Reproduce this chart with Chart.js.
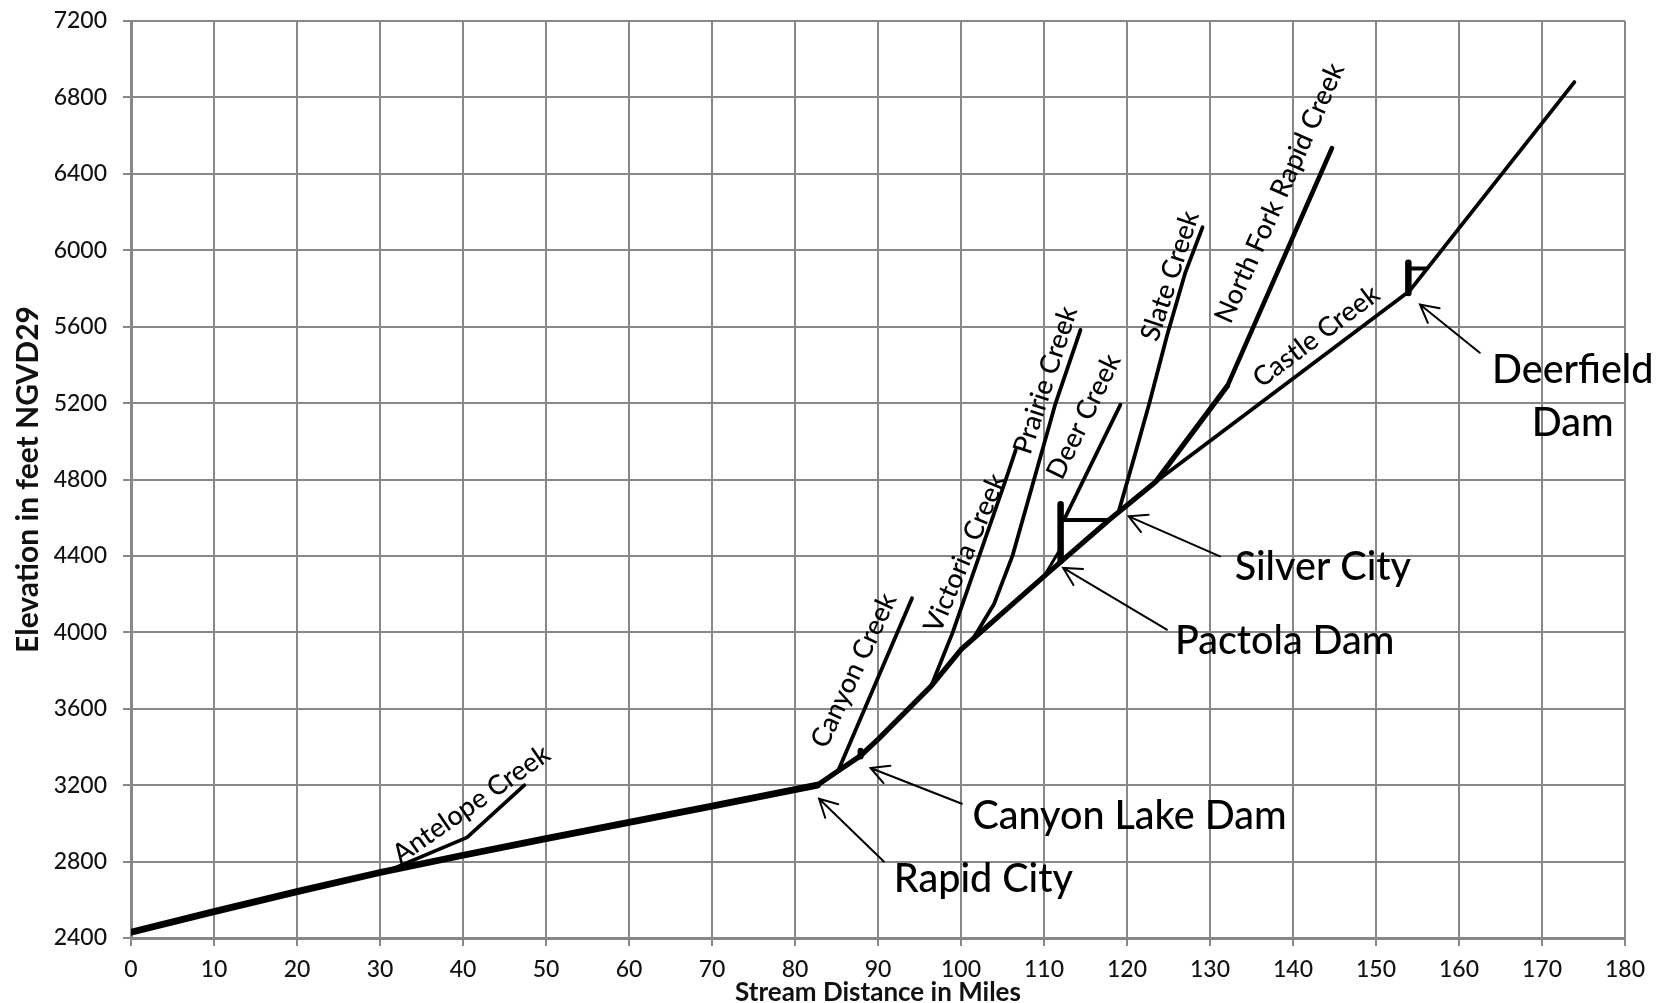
<!DOCTYPE html>
<html>
<head>
<meta charset="utf-8">
<title>Rapid Creek and tributaries - stream profiles</title>
<script src="https://cdn.jsdelivr.net/npm/chart.js@4.4.1/dist/chart.umd.min.js"></script>
<style>
  html, body { margin: 0; padding: 0; background: #fff; }
  #wrap { width: 1657px; height: 1003px; position: relative; }
</style>
</head>
<body>
<div id="wrap"><canvas id="profile" width="1657" height="1003"></canvas></div>
<script>
// Stream distance (miles) and bed elevation (feet NGVD29) for each reach
const rapidMiles = [0, 10, 20, 30, 40, 50, 60, 70, 82.7, 85.2, 87.9, 90, 96.4, 100, 110, 117.9, 123.5, 132.1];
const rapidElev  = [2430, 2538, 2643, 2743, 2833, 2920, 3005, 3090, 3200, 3275, 3354, 3440, 3718, 3910, 4293, 4591, 4790, 5290];
const northForkMiles = [132.1, 144.7];
const northForkElev  = [5290, 6535];
const castleMiles = [123.5, 154.0, 173.9];
const castleElev  = [4790, 5785, 6880];
const antelopeMiles = [31.0, 40.5, 47.4];
const antelopeElev  = [2752, 2927, 3200];
const canyonMiles = [85.2, 94.1];
const canyonElev  = [3275, 4178];
const victoriaMiles = [96.4, 99.0, 102.2, 105.4, 106.6];
const victoriaElev  = [3718, 4000, 4400, 4800, 4955];
const prairieMiles = [101.4, 104.0, 106.2, 108.8, 111.4, 114.4];
const prairieElev  = [3963, 4150, 4400, 4800, 5200, 5583];
const deerMiles = [112.4, 119.2];
const deerElev  = [4588, 5191];
const slateMiles = [119.0, 120.9, 122.7, 124.8, 127.0, 129.1];
const slateElev  = [4632, 4921, 5200, 5550, 5880, 6120];

// Dams and reservoir pools
const canyonLakeDamMiles = [87.9, 87.9];
const canyonLakeDamElev  = [3350, 3380];
const pactolaDamMiles = [112.0, 112.0];
const pactolaDamElev  = [4375, 4670];
const pactolaPoolMiles = [112.0, 117.9];
const pactolaPoolElev  = [4588, 4588];
const pactolaOldChannelMiles = [110.1, 111.8];
const pactolaOldChannelElev  = [4300, 4425];
const deerfieldDamMiles = [153.9, 153.9];
const deerfieldDamElev  = [5776, 5935];
const deerfieldPoolMiles = [153.9, 156.1];
const deerfieldPoolElev  = [5904, 5904];

// Axis ticks
const mileTicks = [0, 10, 20, 30, 40, 50, 60, 70, 80, 90, 100, 110, 120, 130, 140, 150, 160, 170, 180];
const elevTicks = [2400, 2800, 3200, 3600, 4000, 4400, 4800, 5200, 5600, 6000, 6400, 6800, 7200];

// Stream names written along the profiles
const creekNames = [
  { text: 'Antelope Creek', mile: 41.0, elev: 3100, angle: -35 },
  { text: 'Canyon Creek', mile: 87.1, elev: 3800, angle: -65 },
  { text: 'Victoria Creek', mile: 100.5, elev: 4415, angle: -67 },
  { text: 'Prairie Creek', mile: 110.2, elev: 5320, angle: -72 },
  { text: 'Deer Creek', mile: 114.8, elev: 5130, angle: -64 },
  { text: 'Slate Creek', mile: 125.2, elev: 5865, angle: -72 },
  { text: 'North Fork Rapid Creek', mile: 138.4, elev: 6300, angle: -66 },
  { text: 'Castle Creek', mile: 142.8, elev: 5550, angle: -37 }
];

// Place names with pointers
const placeNames = [
  { lines: ['Rapid City'], mile: 102.7, elev: 2709, tail: [90.7, 2800], tip: [82.9, 3129] },
  { lines: ['Canyon Lake Dam'], mile: 120.3, elev: 3035, tail: [100.1, 3103], tip: [89.1, 3290] },
  { lines: ['Pactola Dam'], mile: 139.0, elev: 3954, tail: [124.8, 4014], tip: [112.3, 4337] },
  { lines: ['Silver City'], mile: 143.6, elev: 4341, tail: [131.2, 4398], tip: [120.2, 4607] },
  { lines: ['Deerfield', 'Dam'], mile: 173.7, elev: 5371, tail: [162.5, 5463], tip: [155.3, 5716] }
];

const FONT = 'Lato, "Open Sans", sans-serif';
const GRID = '#888888';

function reach(label, miles, elev, width) {
  return {
    label,
    data: miles.map((m, i) => ({ x: m, y: elev[i] })),
    borderColor: '#000',
    borderWidth: width,
    pointRadius: 0,
    tension: 0,
    borderJoinStyle: 'round',
    borderCapStyle: 'round',
    fill: false
  };
}

const datasets = [
  Object.assign(reach('Rapid Creek', rapidMiles, rapidElev, 5.2), {
    segment: { borderWidth: c => (c.p0.parsed.x < 82.7 ? 6.8 : 5.2) }
  }),
  reach('North Fork Rapid Creek', northForkMiles, northForkElev, 4.6),
  reach('Castle Creek', castleMiles, castleElev, 3.8),
  reach('Antelope Creek', antelopeMiles, antelopeElev, 3.6),
  reach('Canyon Creek', canyonMiles, canyonElev, 3.8),
  reach('Victoria Creek', victoriaMiles, victoriaElev, 3.8),
  reach('Prairie Creek', prairieMiles, prairieElev, 3.8),
  reach('Deer Creek', deerMiles, deerElev, 3.8),
  reach('Slate Creek', slateMiles, slateElev, 3.8),
  reach('Canyon Lake Dam', canyonLakeDamMiles, canyonLakeDamElev, 6),
  reach('Pactola Dam', pactolaDamMiles, pactolaDamElev, 6.5),
  reach('Pactola Reservoir', pactolaPoolMiles, pactolaPoolElev, 4),
  reach('Rapid Creek (inundated)', pactolaOldChannelMiles, pactolaOldChannelElev, 3),
  reach('Deerfield Dam', deerfieldDamMiles, deerfieldDamElev, 6.5),
  reach('Deerfield Reservoir', deerfieldPoolMiles, deerfieldPoolElev, 4)
];

function drawPointer(ctx, x1, y1, x2, y2) {
  const ang = Math.atan2(y1 - y2, x1 - x2);
  const head = 20, spread = 28 * Math.PI / 180;
  ctx.beginPath();
  ctx.moveTo(x1, y1);
  ctx.lineTo(x2, y2);
  ctx.moveTo(x2 + head * Math.cos(ang - spread), y2 + head * Math.sin(ang - spread));
  ctx.lineTo(x2, y2);
  ctx.lineTo(x2 + head * Math.cos(ang + spread), y2 + head * Math.sin(ang + spread));
  ctx.stroke();
}

const profileNotes = {
  id: 'profileNotes',
  afterDatasetsDraw(chart) {
    const { ctx, scales: { x, y } } = chart;
    ctx.save();
    ctx.fillStyle = '#000';
    ctx.strokeStyle = '#000';
    ctx.textAlign = 'center';
    ctx.textBaseline = 'middle';

    ctx.font = '500 27px ' + FONT;
    creekNames.forEach(n => {
      ctx.save();
      ctx.translate(x.getPixelForValue(n.mile), y.getPixelForValue(n.elev));
      ctx.rotate(n.angle * Math.PI / 180);
      ctx.fillText(n.text, 0, 0);
      ctx.restore();
    });

    ctx.font = '500 39.5px ' + FONT;
    ctx.lineWidth = 2;
    ctx.lineCap = 'round';
    placeNames.forEach(p => {
      const px = x.getPixelForValue(p.mile);
      const py = y.getPixelForValue(p.elev);
      p.lines.forEach((t, i) => ctx.fillText(t, px, py + i * 53));
      drawPointer(ctx,
        x.getPixelForValue(p.tail[0]), y.getPixelForValue(p.tail[1]),
        x.getPixelForValue(p.tip[0]), y.getPixelForValue(p.tip[1]));
    });
    ctx.restore();
  }
};

function axis(min, max, tickList, fit, title, pad) {
  return {
    type: 'linear',
    min, max,
    afterBuildTicks: s => { s.ticks = tickList.map(v => ({ value: v })); },
    afterFit: s => {
      fit(s);
      // keep the plot frame fixed; labels may overhang the margins
      s.paddingTop = 0; s.paddingBottom = 0; s.paddingLeft = 0; s.paddingRight = 0;
    },
    ticks: {
      callback: v => String(v),
      color: '#111',
      font: { family: FONT, size: 23, weight: '500' },
      autoSkip: false,
      maxRotation: 0,
      padding: pad
    },
    grid: { color: GRID, lineWidth: 2, tickLength: 8, tickColor: GRID, tickWidth: 2 },
    border: { display: true, color: GRID, width: 3 },
    title
  };
}

function build() {
  const xAxis = axis(0, 180, mileTicks, s => { s.height = 65; }, {
    display: true,
    text: 'Stream Distance in Miles',
    color: '#111',
    font: { family: FONT, size: 26, weight: 'bold', lineHeight: 0.8 },
    padding: { top: 0, bottom: 0 }
  }, 10);
  const yAxis = axis(2400, 7200, elevTicks, s => { s.width = 131; }, {
    display: true,
    text: 'Elevation in feet NGVD29',
    color: '#111',
    font: { family: FONT, size: 30, weight: 'bold', lineHeight: 1.2 },
    padding: { top: 10, bottom: 0 }
  }, 16);

  new Chart(document.getElementById('profile'), {
    type: 'line',
    data: { datasets },
    options: {
      responsive: false,
      devicePixelRatio: 1,
      animation: false,
      events: [],
      layout: { padding: { left: 0, top: 21, right: 32, bottom: 0 } },
      plugins: { legend: { display: false }, tooltip: { enabled: false } },
      scales: { x: xAxis, y: yAxis }
    },
    plugins: [profileNotes]
  });
}

const fontLoads = ['500 23px Lato', 'bold 26px Lato', '500 40px Lato', '23px Lato'].map(f => document.fonts.load(f).catch(() => null));
Promise.all(fontLoads).then(build, build);
</script>
</body>
</html>
